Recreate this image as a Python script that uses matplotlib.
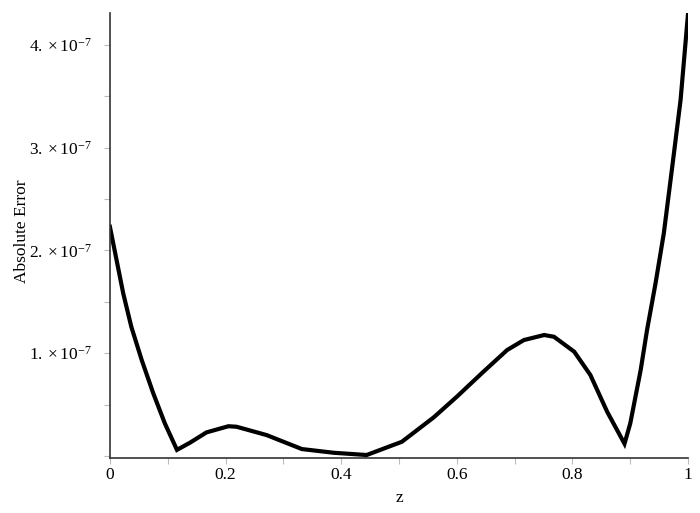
import matplotlib.pyplot as plt
from matplotlib.ticker import MultipleLocator, FuncFormatter

# Values (error in units of 1e-7)
z = [0.0, 0.0115, 0.023, 0.037, 0.055, 0.075, 0.095, 0.116,
     0.1385, 0.167, 0.205, 0.219, 0.271, 0.332, 0.387, 0.444,
     0.505, 0.56, 0.60, 0.646, 0.687, 0.716, 0.751, 0.768,
     0.803, 0.831, 0.86, 0.89, 0.90, 0.918, 0.929, 0.9437,
     0.958, 0.9726, 0.987, 1.0]
err = [2.23, 1.907, 1.583, 1.258, 0.934, 0.610, 0.318, 0.06,
       0.13, 0.23, 0.29, 0.285, 0.204, 0.068, 0.032, 0.01,
       0.139, 0.376, 0.577, 0.82, 1.031, 1.128, 1.177, 1.16,
       1.015, 0.788, 0.431, 0.12, 0.318, 0.837, 1.226, 1.68,
       2.166, 2.814, 3.463, 4.31]
err = [e * 1e-7 for e in err]

x_ticks = [0, 0.2, 0.4, 0.6, 0.8, 1]
x_labels = ['0', '0.2', '0.4', '0.6', '0.8', '1']
y_ticks = [1e-7, 2e-7, 3e-7, 4e-7]

plt.rcParams['font.family'] = ['Liberation Serif', 'DejaVu Serif']
plt.rcParams['mathtext.fontset'] = 'custom'
plt.rcParams['mathtext.rm'] = 'Liberation Serif'
plt.rcParams['mathtext.it'] = 'Liberation Serif'

fig = plt.figure(figsize=(7, 5.13), dpi=100)
ax = fig.add_axes([0.157, 0.108, 0.826, 0.867])

ax.plot(z, err, color='black', lw=3, solid_joinstyle='miter')

ax.set_xlim(0, 1)
ax.set_ylim(-0.015e-7, 4.31e-7)

# Only left and bottom axes, like Maple
for side in ['top', 'right']:
    ax.spines[side].set_visible(False)
for side in ['left', 'bottom']:
    ax.spines[side].set_color('#333333')
    ax.spines[side].set_linewidth(1.2)

ax.set_xticks(x_ticks)
ax.set_xticklabels(x_labels)
ax.xaxis.set_minor_locator(MultipleLocator(0.1))
ax.set_yticks(y_ticks)
ax.yaxis.set_minor_locator(MultipleLocator(0.5e-7))
ax.yaxis.set_major_formatter(FuncFormatter(
    lambda v, p: r'$%d.\times10^{-7}$' % round(v * 1e7)))

ax.tick_params(which='both', direction='out', length=4, width=0.8,
               color='#bbbbbb', labelsize=12.5)
ax.tick_params(axis='y', pad=9)
ax.tick_params(axis='x', pad=3)

ax.set_xlabel('z', fontsize=12.5, labelpad=5)
ax.set_ylabel('Absolute Error', fontsize=12.5)
ax.yaxis.set_label_coords(-0.138, 0.51)

fig.savefig('out.png', dpi=100)
